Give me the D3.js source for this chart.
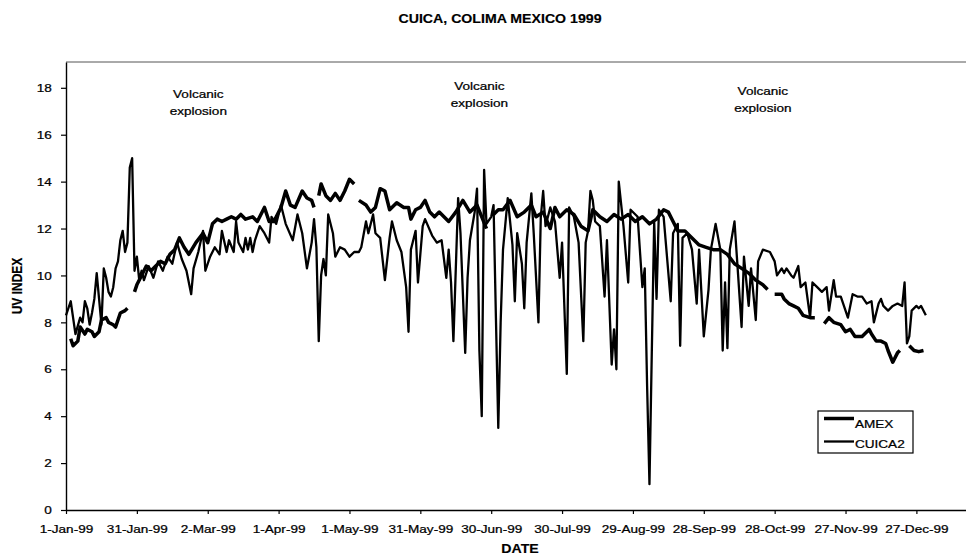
<!DOCTYPE html>
<html>
<head>
<meta charset="utf-8">
<script src="https://cdn.jsdelivr.net/npm/d3@7"></script>
<style>
  body { margin: 0; background: #fff; }
  text { font-family: "Liberation Sans", Arial, sans-serif; fill: #000; }
</style>
</head>
<body>
<div id="chart"></div>
<script>
// days counted from 1-Jan-99 (day 0); null = gap in the record
var cuicaDays = [
  0,2,3,4,6,7,8,9,10,11,
  12,13,14,15,16,17,18,19,20,21,
  22,23,24,25,26,27,28,29,30,31,
  32,33,35,37,39,41,43,45,47,49,
  51,53,54,56,58,59,61,63,65,66,
  68,69,71,72,73,75,76,77,78,79,
  80,82,84,86,87,89,91,93,96,98,
  100,102,104,105,106,107,108,109,110,111,
  113,114,116,118,120,122,124,125,127,128,
  130,131,133,135,137,138,140,142,144,145,
  146,147,148,149,151,152,155,157,159,161,
  162,163,164,166,167,169,170,171,173,174,
  175,176,177,178,180,181,182,183,184,185,
  187,189,190,191,193,194,195,197,198,200,
  201,202,203,205,207,209,210,212,213,215,
  217,219,220,221,222,223,224,226,228,229,
  231,232,233,234,236,238,239,242,244,245,
  246,247,248,249,250,251,253,256,257,259,
  260,261,263,265,267,268,270,272,273,275,
  277,278,279,280,281,283,284,286,287,289,
  290,292,293,295,298,300,301,303,304,305,
  307,308,310,311,313,315,316,318,320,322,
  323,325,326,328,329,331,333,335,337,339,
  341,342,344,345,346,348,350,352,354,355,
  356,357,358,360,361,362,364
];
var cuicaUV = [
  8.3,8.9,8.2,7.5,8.2,8.0,8.9,8.6,7.9,8.4,
  9.0,10.1,9.0,7.9,10.3,9.9,9.3,9.1,9.5,10.3,
  10.6,11.5,11.9,11.0,11.4,14.6,15.0,10.2,10.8,9.8,
  10.2,9.8,10.4,9.9,10.6,10.2,10.8,10.5,11.4,10.7,
  10.2,9.2,10.3,11.0,11.9,10.2,10.8,11.2,10.9,11.9,
  11.0,11.5,11.0,12.3,11.4,11.0,11.6,11.1,11.6,11.0,
  11.5,12.1,11.8,11.4,12.5,12.2,13.0,12.2,11.5,12.6,
  11.8,10.3,11.4,12.4,11.2,7.2,10.0,10.7,10.0,12.6,
  11.8,10.8,11.2,11.1,10.8,11.0,11.0,11.2,12.3,11.8,
  12.6,11.8,11.6,9.8,11.6,12.3,11.5,11.0,9.5,7.6,
  11.1,11.5,11.9,9.7,12.1,12.4,11.7,11.4,11.5,9.9,
  11.1,9.7,7.2,13.3,11.8,6.7,9.9,11.5,12.7,13.7,
  6.8,4.0,14.5,12.2,12.5,13.0,8.2,3.5,8.0,11.1,
  13.3,11.3,8.9,11.8,10.5,8.6,11.4,13.5,11.8,8.0,
  12.5,13.6,12.1,12.9,12.3,9.9,11.4,5.8,12.9,12.5,
  11.4,7.2,11.4,11.9,13.6,13.2,12.3,12.1,9.1,11.5,
  6.2,7.7,6.0,14.0,12.1,9.7,12.8,12.5,9.5,10.3,
  5.3,1.1,6.8,12.3,9.0,12.8,12.5,8.9,11.8,12.2,
  7.0,11.6,11.8,11.1,8.8,11.1,7.4,9.4,11.1,12.2,
  11.1,6.8,9.7,6.9,11.1,12.3,10.8,7.8,10.8,8.7,
  10.3,8.1,10.6,11.1,11.0,10.6,10.0,10.3,10.1,10.3,
  10.0,9.9,10.4,9.5,9.7,8.2,9.7,9.5,9.3,9.5,
  8.5,9.8,9.1,9.1,8.8,8.2,9.2,9.1,9.1,8.8,
  8.9,8.0,8.8,9.0,8.7,8.5,8.7,8.8,8.7,9.7,
  7.1,7.4,8.5,8.7,8.6,8.7,8.3
];

var amexDays = [
  2,3,5,6,8,9,11,12,14,15,
  17,18,20,21,23,25,26,27,29,30,
  32,34,36,38,40,42,44,46,48,50,
  52,55,58,60,62,64,66,68,70,72,
  74,76,79,81,84,86,88,91,93,95,
  97,100,102,104,105,106,107,108,110,112,
  114,116,118,120,122,123,124,127,129,131,
  133,135,137,140,143,145,146,148,150,152,
  154,156,158,160,162,165,168,171,174,176,
  178,179,181,183,185,188,191,194,197,199,
  202,205,207,209,212,215,218,221,223,226,
  229,232,235,238,241,244,247,250,253,255,
  257,259,262,265,268,271,274,277,280,283,
  286,289,292,295,297,299,300,303,304,306,
  308,310,312,315,317,318,321,323,325,328,
  330,332,334,337,340,341,343,345,347,348,
  350,352,353,355,357,359,361,363
];
var amexUV = [
  7.3,7.0,7.2,7.8,7.5,7.7,7.6,7.4,7.6,8.1,
  8.2,8.0,7.9,7.8,8.4,8.5,8.6,null,9.3,9.6,
  10.0,10.4,10.2,10.4,10.6,10.5,10.9,11.1,11.6,11.2,
  10.9,11.4,11.8,11.4,12.2,12.4,12.3,12.4,12.5,12.4,
  12.6,12.4,12.5,12.3,12.9,12.3,12.3,12.9,13.6,13.0,
  12.9,13.6,13.3,13.2,12.9,null,13.4,13.9,13.4,13.2,
  13.5,13.2,13.6,14.1,13.9,null,13.2,13.0,12.7,12.9,
  13.7,13.6,12.8,13.1,12.9,12.9,12.4,12.8,12.9,13.2,
  12.7,12.5,12.7,12.5,12.3,12.7,13.2,12.7,13.0,12.5,
  12.0,null,12.6,12.8,12.8,13.2,12.5,12.7,13.0,12.5,
  12.7,12.0,12.9,12.5,12.8,12.6,12.1,11.9,12.8,12.5,
  12.3,12.6,12.4,12.6,12.3,12.5,12.2,12.4,12.8,12.7,
  12.3,11.9,11.9,11.6,11.3,11.2,11.1,11.1,10.9,10.5,
  10.3,10.1,9.8,9.6,9.4,null,9.2,9.2,9.0,8.8,
  8.7,8.6,8.3,8.2,8.2,null,7.95,8.2,8.0,7.9,
  7.6,7.7,7.4,7.4,7.7,7.5,7.2,7.2,7.1,6.8,
  6.3,6.7,6.8,null,7.0,6.8,6.75,6.8
];

var yTicks = [0, 2, 4, 6, 8, 10, 12, 14, 16, 18];
var tickDays = [0, 30, 60, 90, 120, 150, 180, 210, 240, 270, 300, 330, 360];
var noteLines = ["Volcanic", "explosion"];
var noteDays = [56.5, 175.5, 295];

var width = 966, height = 555;
var margin = {top: 62, right: 0, bottom: 45, left: 66};
var SX = 1.18; // the scan is a little wider than tall, stretch text to match

var start = new Date(1999, 0, 1);
function dayToDate(d) { return d3.timeDay.offset(start, d); }

var svg = d3.select("#chart").append("svg")
  .attr("width", width)
  .attr("height", height);

var x = d3.scaleTime()
  .domain([start, dayToDate(381.7)])
  .range([margin.left, width - margin.right]);

var y = d3.scaleLinear()
  .domain([0, 19.1])
  .range([height - margin.bottom, margin.top]);

// top border of plot area
svg.append("line")
  .attr("x1", margin.left).attr("x2", width)
  .attr("y1", margin.top).attr("y2", margin.top)
  .attr("stroke", "#555").attr("stroke-width", 1);

// x axis
var xAxis = svg.append("g")
  .attr("transform", "translate(0," + (height - margin.bottom) + ")")
  .call(d3.axisBottom(x)
    .tickValues(tickDays.map(dayToDate))
    .tickFormat(d3.timeFormat("%-d-%b-%y"))
    .tickSize(4)
    .tickSizeOuter(0));
xAxis.select(".domain").attr("stroke", "#000").attr("stroke-width", 1.4);
xAxis.selectAll(".tick line").attr("stroke", "#000").attr("stroke-width", 1.2);
xAxis.selectAll("text")
  .attr("y", 15)
  .attr("transform", "scale(" + SX + ",1)")
  .style("font-size", "11.5px")
  .style("font-family", "'Liberation Sans', Arial, sans-serif")
  .style("stroke", "#000").style("stroke-width", 0.25)
  .attr("fill", "#000");

// y axis
var yAxis = svg.append("g")
  .attr("transform", "translate(" + margin.left + ",0)")
  .call(d3.axisLeft(y).tickValues(yTicks).tickSize(5).tickSizeOuter(0));
yAxis.select(".domain").attr("stroke", "#000").attr("stroke-width", 1.4);
yAxis.selectAll(".tick line").attr("stroke", "#000").attr("stroke-width", 1.2);
yAxis.selectAll("text")
  .attr("x", -12)
  .attr("transform", "scale(" + SX + ",1)")
  .style("font-size", "11.5px")
  .style("font-family", "'Liberation Sans', Arial, sans-serif")
  .style("stroke", "#000").style("stroke-width", 0.25)
  .attr("fill", "#000");

// build the two series
var cuica = cuicaDays.map(function(d, i) { return {date: dayToDate(d), v: cuicaUV[i]}; });
var amex = amexDays.map(function(d, i) { return {date: dayToDate(d), v: amexUV[i]}; });

var line = d3.line()
  .defined(function(d) { return d.v != null; })
  .x(function(d) { return x(d.date); })
  .y(function(d) { return y(d.v); });

svg.append("path")
  .datum(cuica)
  .attr("fill", "none")
  .attr("stroke", "#000")
  .attr("stroke-width", 2.3)
  .attr("stroke-linejoin", "round")
  .attr("d", line);

svg.append("path")
  .datum(amex)
  .attr("fill", "none")
  .attr("stroke", "#000")
  .attr("stroke-width", 3.5)
  .attr("stroke-linejoin", "round")
  .attr("d", line);

// stretched text helper
function label(px, py, txt, size, bold, anchor, rotate) {
  var g = svg.append("g").attr("transform", "translate(" + px + "," + py + ")" + (rotate ? " rotate(-90)" : ""));
  g.append("text")
    .attr("text-anchor", anchor || "middle")
    .attr("transform", rotate ? "scale(1," + SX + ")" : "scale(" + SX + ",1)")
    .style("font-size", size + "px")
    .style("font-weight", bold ? "bold" : "normal")
    .style("stroke", "#000").style("stroke-width", bold ? 0.15 : 0.25)
    .text(txt);
}

label(500, 23, "CUICA, COLIMA MEXICO 1999", 12, true);
label(520, 553, "DATE", 12, true);
label(22, 286, "UV INDEX", 12, true, "middle", true);

// volcanic explosion notes
var noteTop = [97.5, 90, 95];
noteDays.forEach(function(d, i) {
  label(x(dayToDate(d)), noteTop[i], noteLines[0], 11.5, false);
  label(x(dayToDate(d)), noteTop[i] + 17, noteLines[1], 11.5, false);
});

// legend
var legend = svg.append("g").attr("transform", "translate(818,411)");
legend.append("rect")
  .attr("width", 95).attr("height", 42)
  .attr("fill", "#fff").attr("stroke", "#000").attr("stroke-width", 1.2);
var series = [{name: "AMEX", w: 3.5, ly: 7.5, ty: 17}, {name: "CUICA2", w: 2.3, ly: 30.5, ty: 37}];
series.forEach(function(s) {
  legend.append("line")
    .attr("x1", 6).attr("x2", 36)
    .attr("y1", s.ly).attr("y2", s.ly)
    .attr("stroke", "#000").attr("stroke-width", s.w);
  legend.append("text")
    .attr("x", 37 / SX).attr("y", s.ty)
    .attr("transform", "scale(" + SX + ",1)")
    .style("font-size", "11.5px")
    .style("stroke", "#000").style("stroke-width", 0.25)
    .text(s.name);
});
</script>
</body>
</html>
